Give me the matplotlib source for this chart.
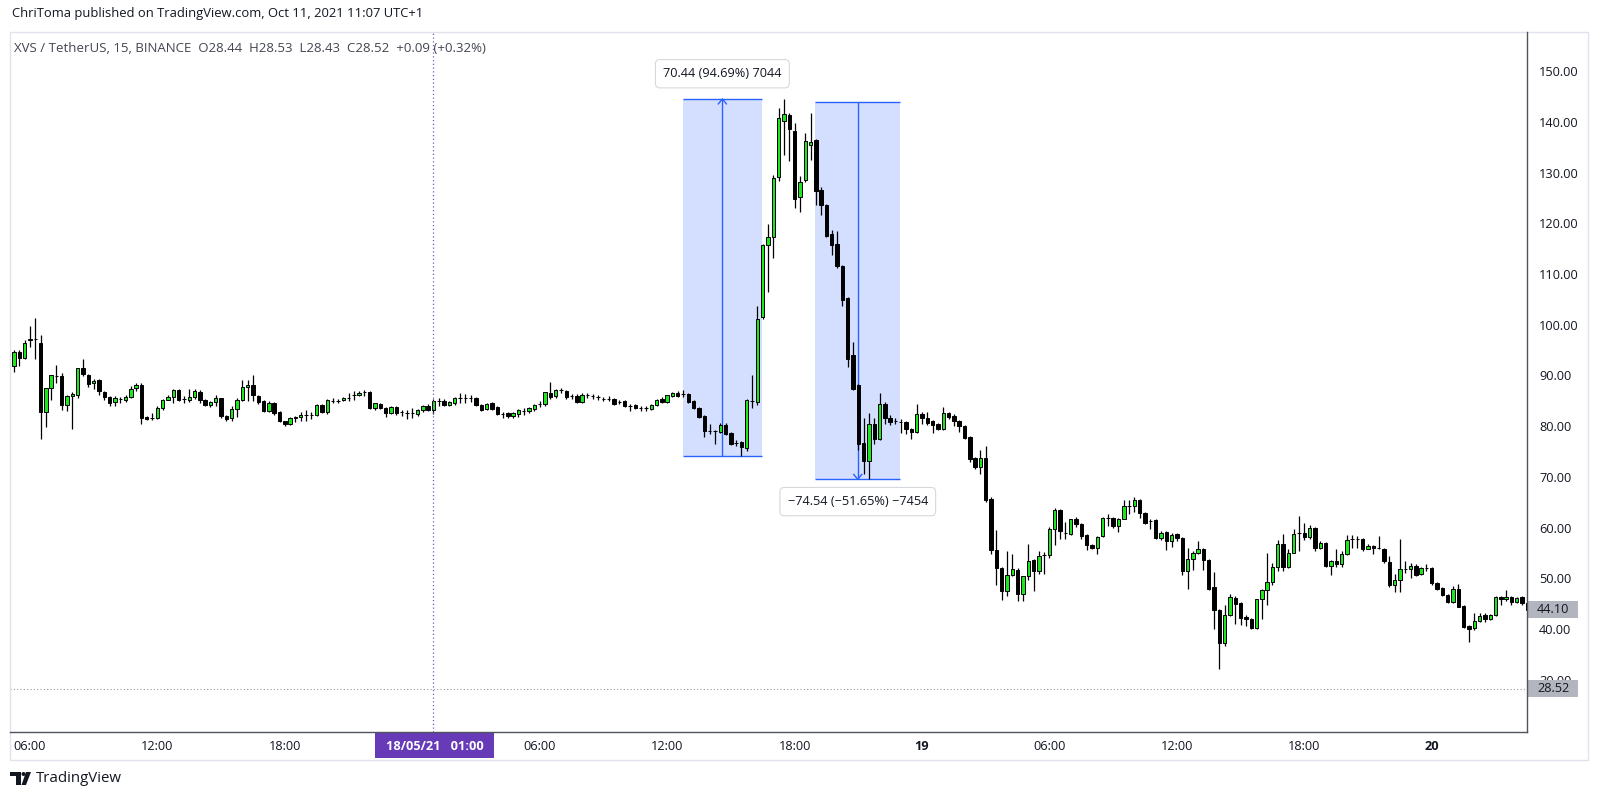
import numpy as np
import pandas as pd
import matplotlib.pyplot as plt
import matplotlib.transforms as mtrans
from matplotlib.patches import Rectangle, Polygon, Circle
from matplotlib.lines import Line2D

plt.rcParams['font.family'] = ['Open Sans', 'DejaVu Sans']

# XVS / USDT, 15 min candles starting 17 May 2021 05:15
start_time = '2021-05-17 05:15'

opens = [
    92.2, 94.9, 93.7, 97.2, 97.5, 96.7, 83.0, 87.8, 90.1, 90.1,
    84.5, 86.3, 86.5, 91.7, 90.3, 88.7, 89.4, 87.0, 86.0, 85.0,
    85.7, 85.5, 86.0, 87.8, 88.5, 82.1, 81.9, 81.9, 83.8, 85.5,
    86.0, 87.4, 85.7, 85.5, 86.1, 87.0, 85.4, 84.5, 85.0, 85.8,
    82.3, 81.8, 83.7, 85.5, 88.0, 88.5, 86.2, 85.3, 83.3, 84.8,
    83.0, 81.3, 80.8, 81.8, 82.0, 82.4, 82.4, 82.5, 84.4, 83.1,
    85.3, 85.3, 85.4, 85.8, 86.4, 86.4, 87.0, 87.0, 83.8, 84.7,
    83.8, 82.9, 84.0, 83.0, 82.8, 82.8, 82.7, 83.4, 84.3, 83.5,
    85.2, 85.2, 84.5, 84.8, 85.8, 85.8, 85.8, 85.8, 84.5, 83.7,
    84.8, 84.0, 82.6, 82.8, 82.2, 82.6, 83.3, 83.2, 83.6, 84.7,
    84.6, 86.8, 86.2, 87.4, 87.3, 86.2, 86.3, 85.0, 86.4, 86.2,
    86.0, 85.7, 85.7, 85.6, 85.0, 85.2, 84.2, 84.4, 83.8, 83.8,
    83.7, 84.4, 85.7, 85.1, 86.3, 86.9, 86.6, 86.7, 85.3, 83.8,
    82.2, 79.3, 79.3, 79.1, 80.6, 79.0, 77.0, 77.2, 76.0, 85.3,
    85.1, 101.9, 116.0, 117.6, 129.4, 140.4, 141.7, 138.6, 125.5, 128.9,
    135.8, 136.8, 126.9, 123.9, 118.2, 116.2, 111.8, 105.5, 94.3, 88.4,
    77.0, 73.4, 80.8, 77.8, 84.7, 81.8, 81.3, 81.2, 81.2, 79.8,
    79.1, 82.65, 81.8, 81.3, 80.65, 79.8, 82.85, 82.2, 81.3, 80.3,
    78.2, 74.0, 72.3, 74.0, 66.0, 55.8, 52.3, 47.8, 50.85, 52.0,
    47.1, 50.65, 53.8, 51.65, 54.8, 54.8, 60.0, 63.8, 59.3, 59.0,
    61.95, 61.0, 58.8, 56.85, 56.3, 58.6, 62.1, 62.1, 60.6, 62.0,
    64.6, 64.6, 65.8, 63.1, 61.5, 61.7, 58.3, 59.4, 57.6, 59.0,
    58.3, 51.7, 54.0, 55.3, 56.1, 53.9, 48.6, 44.0, 37.5, 43.1,
    46.4, 45.4, 42.6, 42.3, 40.5, 46.1, 47.9, 49.5, 52.5, 57.0,
    52.5, 55.3, 59.2, 59.2, 58.4, 60.2, 56.3, 57.2, 52.8, 53.6,
    53.0, 55.1, 58.0, 58.0, 58.0, 56.1, 56.7, 56.3, 56.1, 53.4,
    49.0, 50.0, 52.1, 52.1, 52.8, 51.2, 52.3, 52.3, 49.4, 48.4,
    47.0, 45.7, 48.2, 44.9, 40.8, 40.5, 41.8, 43.0, 42.3, 43.0,
    46.6, 46.1, 46.6, 45.7, 46.5, 45.5,
]
closes = [
    94.9, 93.7, 96.7, 97.5, 97.5, 83.0, 87.8, 90.3, 90.1, 84.4,
    86.3, 86.7, 91.7, 90.5, 88.6, 89.2, 87.2, 86.0, 84.8, 85.8,
    85.7, 86.0, 87.7, 88.5, 81.8, 81.7, 81.9, 83.8, 85.5, 86.0,
    87.4, 85.5, 85.7, 86.0, 87.2, 85.4, 84.4, 85.0, 85.8, 82.2,
    81.7, 83.7, 85.5, 88.0, 88.5, 86.5, 85.0, 83.3, 84.8, 82.8,
    81.3, 80.8, 81.8, 82.0, 82.5, 82.4, 82.4, 84.4, 83.1, 85.5,
    85.3, 85.3, 85.8, 85.8, 86.4, 86.8, 87.0, 83.8, 84.8, 83.8,
    82.8, 84.0, 82.8, 83.0, 82.8, 82.8, 83.4, 84.3, 83.5, 85.2,
    85.2, 84.4, 85.0, 85.8, 85.8, 85.8, 85.8, 84.4, 83.5, 84.7,
    83.6, 82.6, 82.6, 82.2, 82.8, 83.4, 83.3, 83.8, 84.5, 84.7,
    87.0, 86.0, 87.4, 87.4, 86.0, 86.2, 85.0, 86.5, 86.4, 86.2,
    86.0, 85.7, 85.7, 84.7, 85.0, 84.2, 84.2, 83.8, 83.8, 83.8,
    84.5, 85.5, 85.1, 86.4, 86.9, 86.3, 86.6, 85.1, 83.8, 82.1,
    79.3, 79.3, 79.3, 80.5, 78.8, 76.7, 77.0, 76.2, 85.5, 85.3,
    101.5, 116.0, 117.6, 129.2, 141.1, 141.9, 138.8, 125.1, 128.4, 136.5,
    136.3, 126.6, 123.9, 117.8, 116.0, 111.8, 105.2, 93.6, 87.7, 76.8,
    73.4, 80.8, 77.8, 84.7, 81.8, 81.2, 81.3, 81.2, 79.8, 79.1,
    82.65, 81.8, 81.0, 80.45, 79.8, 82.85, 82.0, 81.3, 80.3, 78.0,
    73.8, 72.3, 74.0, 65.8, 55.8, 52.3, 47.8, 50.85, 52.1, 47.1,
    50.65, 53.65, 51.65, 54.65, 54.8, 60.0, 63.65, 59.65, 59.3, 61.95,
    61.0, 58.65, 56.85, 56.3, 58.45, 62.1, 62.1, 60.6, 62.0, 64.6,
    64.6, 65.8, 63.2, 61.2, 61.5, 58.3, 59.2, 57.6, 58.9, 58.3,
    51.7, 54.0, 55.3, 56.1, 53.8, 48.2, 44.0, 37.5, 43.1, 46.6,
    45.3, 42.5, 42.3, 40.5, 46.1, 47.9, 49.5, 52.5, 57.1, 52.5,
    55.3, 59.1, 59.2, 58.4, 60.2, 56.3, 57.3, 52.8, 53.6, 53.0,
    55.1, 57.9, 58.0, 58.0, 56.1, 56.6, 56.3, 56.3, 53.6, 49.0,
    50.0, 52.1, 52.1, 52.8, 51.0, 52.3, 52.3, 49.4, 48.2, 47.0,
    45.7, 48.2, 44.7, 40.7, 40.3, 41.8, 42.9, 42.3, 43.0, 46.6,
    46.1, 46.6, 45.7, 46.4, 45.5, 44.1,
]
highs = [
    95.3, 95.3, 97.2, 100.0, 101.6, 98.3, 87.8, 90.3, 92.4, 90.8,
    86.4, 87.0, 91.8, 93.5, 90.6, 89.6, 89.6, 87.2, 86.2, 86.2,
    86.1, 86.4, 88.2, 88.8, 88.7, 82.3, 82.8, 84.2, 85.7, 86.4,
    87.7, 87.7, 86.2, 87.7, 87.7, 87.5, 85.6, 85.3, 86.5, 85.9,
    82.5, 84.3, 85.8, 89.3, 89.3, 90.4, 86.5, 85.4, 85.2, 85.0,
    83.2, 81.4, 82.0, 82.2, 83.0, 83.5, 83.0, 84.7, 84.6, 85.6,
    85.8, 85.7, 86.0, 86.8, 87.2, 87.2, 87.5, 87.2, 84.9, 84.9,
    84.1, 84.2, 84.3, 83.5, 83.4, 83.8, 83.7, 84.5, 84.6, 85.6,
    85.9, 85.7, 85.2, 86.0, 86.8, 86.6, 86.5, 86.0, 84.7, 84.9,
    85.1, 84.2, 83.1, 83.1, 83.0, 83.6, 83.8, 84.0, 84.7, 85.2,
    87.1, 89.0, 87.6, 87.8, 87.5, 86.6, 86.6, 86.8, 86.9, 86.6,
    86.4, 86.1, 86.2, 85.8, 85.4, 85.4, 84.6, 84.6, 84.2, 84.3,
    84.7, 85.7, 86.0, 86.5, 87.1, 87.2, 87.4, 86.9, 85.5, 84.0,
    82.4, 80.8, 79.5, 80.9, 80.9, 79.2, 77.5, 77.4, 85.7, 90.3,
    103.9, 116.3, 120.2, 129.9, 143.0, 144.83, 142.0, 140.1, 129.7, 138.1,
    142.1, 137.0, 127.4, 124.2, 119.0, 118.7, 112.0, 105.7, 96.9, 88.6,
    81.8, 82.8, 81.8, 86.9, 85.1, 82.5, 81.8, 81.6, 81.4, 80.0,
    84.7, 83.0, 83.1, 81.5, 80.9, 84.0, 83.1, 82.65, 81.5, 80.5,
    78.4, 74.2, 75.6, 76.45, 66.4, 59.8, 52.6, 55.65, 55.1, 52.3,
    50.8, 57.0, 54.0, 55.65, 55.5, 60.3, 64.2, 64.0, 61.3, 62.0,
    62.3, 61.2, 59.0, 57.0, 58.7, 62.4, 63.0, 62.3, 62.2, 65.8,
    65.8, 66.3, 66.0, 63.3, 62.0, 61.9, 59.6, 59.6, 59.2, 59.2,
    58.5, 56.3, 55.6, 57.6, 56.3, 54.0, 51.5, 44.2, 45.1, 47.1,
    46.8, 45.6, 43.1, 42.5, 46.2, 48.2, 55.2, 53.3, 57.8, 59.1,
    56.0, 60.0, 62.5, 61.2, 60.7, 60.4, 57.6, 57.4, 53.9, 56.1,
    55.6, 58.9, 58.9, 58.6, 58.2, 57.1, 56.9, 58.6, 56.3, 54.6,
    51.2, 58.0, 53.6, 53.3, 53.0, 52.5, 53.0, 52.5, 49.6, 48.6,
    47.2, 48.8, 49.2, 45.0, 41.0, 43.4, 43.4, 43.4, 43.2, 46.7,
    46.8, 47.9, 46.8, 46.6, 46.7, 45.6,
]
lows = [
    91.0, 92.2, 93.6, 95.9, 93.5, 77.8, 80.1, 85.5, 88.8, 83.5,
    83.2, 79.7, 85.8, 90.2, 88.0, 87.6, 86.4, 85.4, 84.3, 84.3,
    84.8, 85.1, 85.8, 87.3, 80.7, 81.5, 81.5, 81.6, 83.5, 85.4,
    84.8, 85.2, 84.8, 85.1, 85.7, 84.9, 84.2, 84.0, 84.3, 81.9,
    81.3, 81.3, 82.0, 85.2, 85.3, 85.2, 84.7, 83.0, 83.0, 82.5,
    81.1, 80.3, 80.6, 81.2, 81.4, 81.4, 81.6, 82.2, 82.8, 82.6,
    84.9, 84.9, 85.2, 85.2, 85.5, 86.2, 86.3, 83.6, 83.5, 83.6,
    82.1, 82.6, 82.5, 82.2, 81.7, 81.8, 82.2, 83.0, 83.3, 82.7,
    84.2, 84.2, 84.2, 84.5, 84.8, 84.8, 85.1, 84.2, 83.3, 83.4,
    83.4, 82.4, 81.8, 81.8, 81.9, 82.0, 82.4, 82.9, 83.3, 84.0,
    84.3, 85.6, 85.8, 86.9, 85.7, 85.6, 84.8, 84.8, 85.8, 85.6,
    85.5, 85.2, 85.2, 84.5, 84.6, 84.0, 83.2, 83.6, 83.3, 83.3,
    83.4, 84.2, 84.9, 84.9, 86.1, 86.1, 86.1, 84.9, 83.6, 81.9,
    78.2, 78.8, 76.8, 78.9, 78.6, 76.5, 76.3, 74.39, 75.4, 83.8,
    84.4, 101.5, 106.8, 113.4, 128.6, 133.8, 132.5, 123.3, 122.6, 128.5,
    132.8, 123.9, 122.0, 117.5, 114.1, 111.5, 103.9, 92.0, 87.4, 75.5,
    70.9, 69.78, 76.8, 77.5, 80.8, 80.6, 80.65, 79.0, 78.65, 77.8,
    78.9, 80.65, 80.6, 79.0, 79.5, 79.6, 81.65, 80.3, 79.1, 77.8,
    73.3, 71.9, 70.85, 65.3, 55.1, 49.0, 46.0, 46.85, 50.65, 45.8,
    45.8, 50.0, 47.8, 51.1, 51.1, 54.3, 56.85, 58.0, 58.0, 58.85,
    60.45, 58.0, 55.8, 56.0, 55.1, 58.4, 60.6, 60.2, 59.4, 61.9,
    62.9, 63.3, 62.2, 61.0, 60.0, 58.0, 57.9, 55.9, 56.5, 57.6,
    51.0, 48.1, 52.0, 55.0, 52.0, 48.0, 40.2, 32.3, 36.9, 42.8,
    41.2, 41.0, 40.8, 40.2, 40.3, 42.3, 45.1, 48.9, 51.7, 51.7,
    52.3, 55.2, 55.6, 57.9, 58.0, 55.6, 56.0, 52.6, 51.0, 52.6,
    52.6, 54.9, 56.3, 56.3, 55.6, 56.0, 55.1, 56.0, 53.3, 48.5,
    47.5, 47.5, 51.3, 50.3, 50.8, 51.0, 51.7, 49.0, 48.0, 46.7,
    45.5, 45.5, 44.6, 40.5, 37.8, 40.0, 41.6, 41.6, 42.0, 42.8,
    45.1, 45.8, 45.1, 45.5, 45.1, 44.0,
]

# measure tools drawn on the chart (price from / to, text)
measure_up = (74.39, 144.83, '70.44 (94.69%) 7044')
measure_down = (144.32, 69.78, '\u221274.54 (\u221251.65%) \u22127454')
last_price = 28.52
shown_price = 44.10
price_ticks = [30, 40, 50, 60, 70, 80, 90, 100, 110, 120, 130, 140, 150]
crosshair_idx = 79
time_tick_idx = [3, 27, 51, 99, 123, 147, 171, 195, 219, 243, 267]

header = 'ChriToma published on TradingView.com, Oct 11, 2021 11:07 UTC+1'
legend = 'XVS / TetherUS, 15, BINANCE  O28.44  H28.53  L28.43  C28.52  +0.09 (+0.32%)'

opens = np.array(opens)
closes = np.array(closes)
highs = np.array(highs)
lows = np.array(lows)
times = pd.date_range(start_time, periods=len(closes), freq='15min')

W, H = 1600, 799
GREEN = '#1ee61e'
BLUE = '#2962ff'
TXT = '#131722'

fig = plt.figure(figsize=(16, 7.99), dpi=100)
# pixel coordinates, origin top-left
px = mtrans.Affine2D().scale(1 / W, -1 / H).translate(0, 1) + fig.transFigure

ax = fig.add_axes([10 / W, 1 - 732 / H, 1517 / W, 700 / H])
ax.set_xlim(-0.753, 284.93)
ax.set_ylim(19.96, 158.03)
for s in ax.spines.values():
    s.set_visible(False)
ax.set_xticks([])
ax.set_yticks([])

x = np.arange(len(closes))
up = closes >= opens

# measure boxes
boxes = [(125.9, 140.9), (150.9, 166.9)]
for (p0, p1, label), (i0, i1) in zip([measure_up, measure_down], boxes):
    lo, hi = min(p0, p1), max(p0, p1)
    ax.add_patch(Rectangle((i0, lo), i1 - i0, hi - lo, fc=BLUE, alpha=0.2, ec='none', zorder=1))
    ax.hlines([lo, hi], i0, i1, color=BLUE, lw=1, zorder=2)
    xm = (i0 + i1) / 2
    ax.vlines(xm, lo, hi, color=BLUE, lw=1, zorder=2)
    dx, dy = 4 / 5.31, 5 / 5.07
    sgn = 1 if p1 > p0 else -1
    ax.plot([xm - dx, xm, xm + dx], [p1 - sgn * dy, p1, p1 - sgn * dy], color=BLUE, lw=1, zorder=2)

box_style = dict(boxstyle='round,pad=0.6,rounding_size=0.35', fc='white', ec='#d6d8de', lw=0.8)
ax.text(sum(boxes[0]) / 2, 149.8, measure_up[2], ha='center', va='center', fontsize=9.2,
        color=TXT, zorder=6, bbox=box_style)
ax.text(sum(boxes[1]) / 2, 65.4, measure_down[2], ha='center', va='center', fontsize=9.2,
        color=TXT, zorder=6, bbox=box_style)

# candles
ax.vlines(x, lows, highs, color='black', lw=0.9, zorder=3)
ax.bar(x, np.abs(closes - opens), bottom=np.minimum(opens, closes), width=0.64,
       color=np.where(up, GREEN, 'black'), edgecolor='black', linewidth=0.7, zorder=4)

# last price line and crosshair
ax.axhline(last_price, color='#9598a1', ls=(0, (1, 2)), lw=0.8, zorder=1)
ax.axvline(crosshair_idx, color='#7e57c2', ls=(0, (1, 2)), lw=0.9, zorder=5)

# frame and axis lines
fig.add_artist(Rectangle((10, 32), 1578, 728, transform=px, fill=False, ec='#e0e3eb', lw=1))
fig.add_artist(Line2D([10, 1527], [732, 732], transform=px, color='#50535e', lw=1))
fig.add_artist(Line2D([1527, 1527], [32, 732], transform=px, color='#50535e', lw=1))

# price scale
py = mtrans.blended_transform_factory(px, ax.transData)
for v in price_ticks:
    ax.text(1539, v, f'{v:.2f}', transform=py, ha='left', va='center', fontsize=9.2,
            color=TXT, clip_on=False)
for v in [shown_price, last_price]:
    r = Rectangle((1528, v - 1.75), 50, 3.5, transform=py, fc='#b2b5be', ec='none',
                  clip_on=False, zorder=7)
    ax.add_patch(r)
    ax.text(1553, v, f'{v:.2f}', transform=py, ha='center', va='center', fontsize=9.2,
            color=TXT, clip_on=False, zorder=8)

# time scale
tx = mtrans.blended_transform_factory(ax.transData, px)
for i in time_tick_idx:
    t = times[i]
    if t.hour == 0 and t.minute == 0:
        ax.text(i, 746, str(t.day), transform=tx, ha='center', va='center', fontsize=9.2,
                fontweight='bold', color=TXT, clip_on=False)
    else:
        ax.text(i, 746, t.strftime('%H:%M'), transform=tx, ha='center', va='center',
                fontsize=9.2, color=TXT, clip_on=False)

ct = times[crosshair_idx]
fig.add_artist(Rectangle((375, 733), 119, 25, transform=px, fc='#673ab7', ec='none'))
fig.text(434.5, 746, ct.strftime('%d/%m/%y') + '   ' + ct.strftime('%H:%M'), transform=px,
         ha='center', va='center', fontsize=9.2, fontweight='bold', color='white')

# header and legend
fig.text(12, 14, header, transform=px, ha='left', va='center', fontsize=9.4, color=TXT)
fig.text(14, 48, legend, transform=px, ha='left', va='center', fontsize=9.5, color='#434651')

# footer logo
fig.add_artist(Polygon([[10, 772], [21, 772], [21, 785], [16, 785], [16, 776], [10, 776]],
                       closed=True, transform=px, fc=TXT, ec='none'))
fig.add_artist(Circle((23.5, 774), 2.0, transform=px, fc=TXT, ec='none'))
fig.add_artist(Polygon([[26, 772], [31, 772], [26, 785], [21.5, 785]], closed=True,
                       transform=px, fc=TXT, ec='none'))
fig.text(36, 778, 'TradingView', transform=px, ha='left', va='center', fontsize=10.8, color=TXT)

fig.savefig('out.png', dpi=100, facecolor='white')
